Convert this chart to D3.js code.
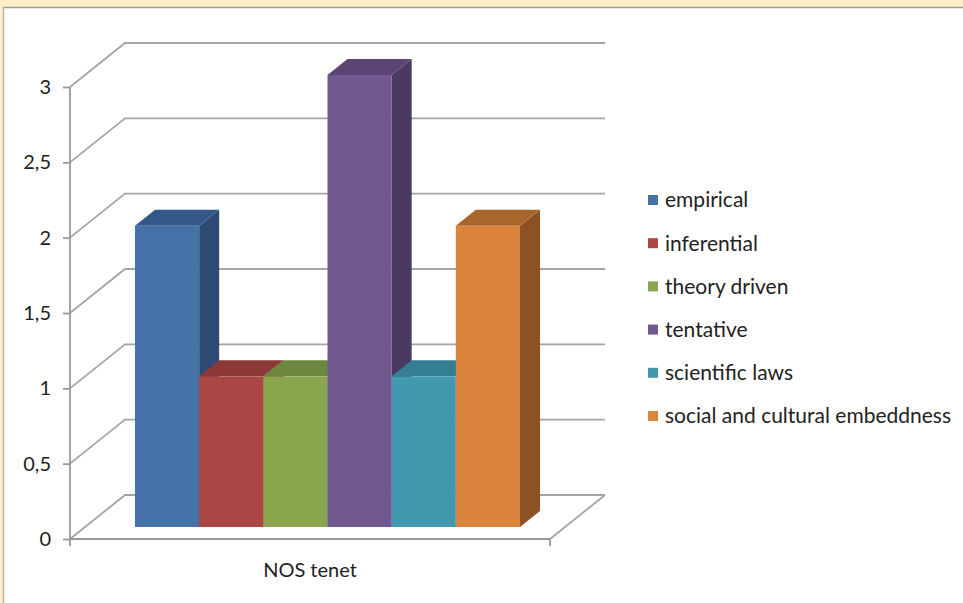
<!DOCTYPE html>
<html>
<head>
<meta charset="utf-8">
<script src="https://cdn.jsdelivr.net/npm/d3@7"></script>
<style>
  body { margin: 0; background: #fff; }
  svg { display: block; font-family: Lato, "Open Sans", sans-serif; }
</style>
</head>
<body>
<svg id="chart"></svg>
<script>
// data
const categories = ['NOS tenet'];
const seriesNames = ['empirical', 'inferential', 'theory driven', 'tentative', 'scientific laws', 'social and cultural embeddness'];
const seriesValues = [2, 1, 1, 3, 1, 2];
const yTicks = [0, 0.5, 1, 1.5, 2, 2.5, 3];
const yTickLabels = ['0', '0,5', '1', '1,5', '2', '2,5', '3'];

const frontColors = ['#4572a7', '#aa4643', '#89a54e', '#71588f', '#4198af', '#db843d'];
const sideColors  = ['#2c4a72', '#7a302e', '#5f7536', '#4a3960', '#2d6b7c', '#8c5226'];
const topColors   = ['#34578a', '#8c3836', '#6e873f', '#5a4575', '#347f93', '#a8652c'];

const width = 963, height = 603;
const svg = d3.select('#chart').attr('width', width).attr('height', height);

// frame
svg.append('rect').attr('width', width).attr('height', height).attr('fill', '#fcefc8');
svg.append('rect').attr('x', 3).attr('y', 7).attr('width', width).attr('height', height).attr('fill', '#fff');
svg.append('line').attr('x1', 3).attr('x2', width).attr('y1', 7.5).attr('y2', 7.5).attr('stroke', '#9e9a8e').attr('stroke-width', 1.5);
svg.append('line').attr('x1', 3.5).attr('x2', 3.5).attr('y1', 7).attr('y2', height).attr('stroke', '#b8b4a6').attr('stroke-width', 1.5);

// scales
const plotLeft = 70, plotRight = 550;
const depthX = 55, depthY = -44;
const yscale = d3.scaleLinear().domain([0, 3]).range([539, 87]);
const xcat = d3.scaleBand().domain(categories).range([plotLeft, plotRight]);
const xbar = d3.scaleBand().domain(seriesNames).range([xcat(categories[0]) + 50, xcat(categories[0]) + xcat.bandwidth() - 45]);

const gridColor = '#a4a4a4';
const grid = svg.append('g');

// back walls: diagonal + horizontal for each tick
yTicks.forEach(t => {
    const y = yscale(t);
    grid.append('path')
        .attr('d', `M${plotLeft},${y} L${plotLeft + depthX},${y + depthY} L${plotRight + depthX},${y + depthY}`)
        .attr('fill', 'none').attr('stroke', gridColor).attr('stroke-width', 1.8);
});
// floor right edge
grid.append('path')
    .attr('d', `M${plotRight + depthX},${yscale(0) + depthY} L${plotRight},${yscale(0)}`)
    .attr('fill', 'none').attr('stroke', gridColor).attr('stroke-width', 1.8);

// axes
const yaxis = d3.axisLeft(yscale).tickValues(yTicks).tickFormat((d, i) => yTickLabels[i]).tickSize(7).tickPadding(12);
const yg = svg.append('g').attr('transform', `translate(${plotLeft},0)`).call(yaxis);
yg.select('.domain').attr('stroke', '#999').attr('stroke-width', 1.8).attr('d', `M0,${yscale(3)}V${yscale(0)}`);
yg.selectAll('.tick line').attr('stroke', '#999').attr('stroke-width', 1.8);
yg.selectAll('.tick text').attr('fill', '#222').style('font-size', '20px').style('font-family', 'Lato, sans-serif');

const xaxis = d3.axisBottom(xcat).tickSize(0).tickPadding(24);
const xg = svg.append('g').attr('transform', `translate(0,${yscale(0)})`).call(xaxis);
xg.select('.domain').attr('stroke', '#999').attr('stroke-width', 1.8).attr('d', `M${plotLeft},7V0H${plotRight}V7`);
xg.selectAll('.tick text').attr('fill', '#222').style('font-size', '20px').style('font-family', 'Lato, sans-serif');

// bars (3d)
const frontDx = 15, frontDy = -12;
const sideDx = 20, sideDy = -16;
const bars = svg.append('g');
seriesNames.forEach((name, i) => {
    const x0 = xbar(name) + frontDx;
    const x1 = x0 + xbar.bandwidth();
    const yb = yscale(0) + frontDy;
    const yt = yscale(seriesValues[i]) + frontDy;
    const g = bars.append('g');
    g.append('path')
        .attr('d', `M${x1},${yt} L${x1 + sideDx},${yt + sideDy} L${x1 + sideDx},${yb + sideDy} L${x1},${yb} Z`)
        .attr('fill', sideColors[i]);
    g.append('path')
        .attr('d', `M${x0},${yt} L${x0 + sideDx},${yt + sideDy} L${x1 + sideDx},${yt + sideDy} L${x1},${yt} Z`)
        .attr('fill', topColors[i]);
    g.append('rect')
        .attr('x', x0).attr('y', yt).attr('width', xbar.bandwidth()).attr('height', yb - yt)
        .attr('fill', frontColors[i]);
});

// legend
const legend = svg.append('g').attr('transform', 'translate(648,200)');
seriesNames.forEach((name, i) => {
    const row = legend.append('g').attr('transform', `translate(0,${i * 43.2})`);
    row.append('rect').attr('x', 0).attr('y', -5).attr('width', 10).attr('height', 10).attr('fill', frontColors[i]);
    row.append('text').attr('x', 17).attr('y', 0).attr('dy', '0.35em')
        .style('font-size', '21px').attr('fill', '#222').text(name);
});
</script>
</body>
</html>
